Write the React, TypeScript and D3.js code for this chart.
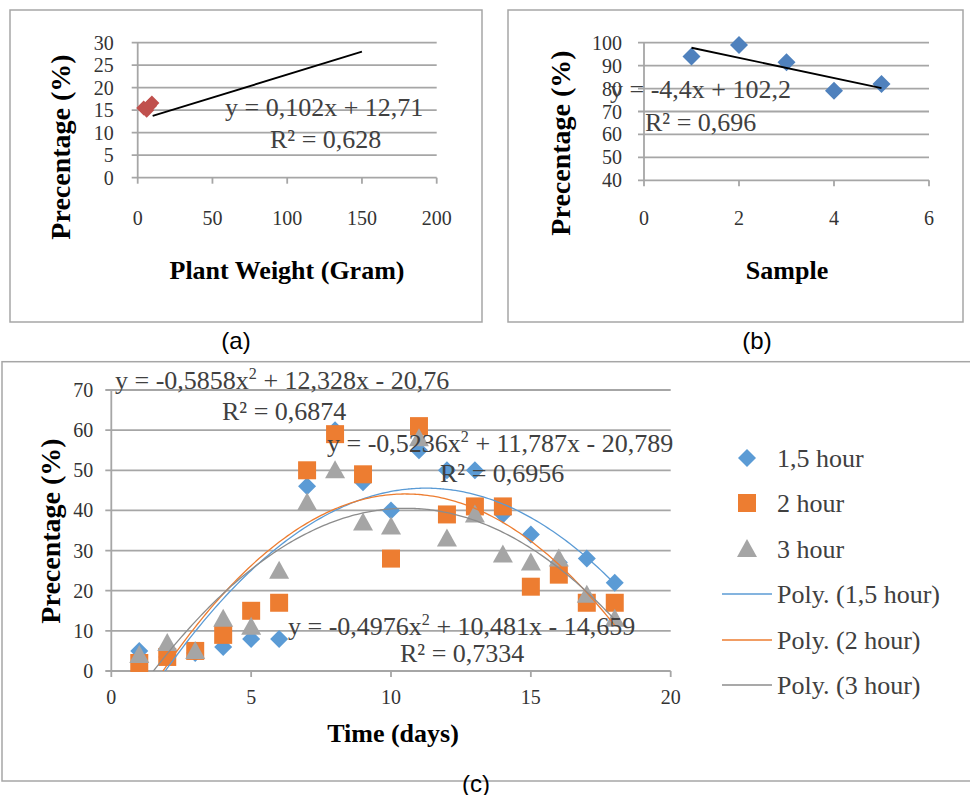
import React from "react";
import * as d3 from "d3";

// ---- data ----
// (a) plant weight vs percentage
const weightX = [4, 6, 8, 9.5];
const weightY = [15.5, 15.0, 16.0, 16.6];
const weightTrendX = [10, 150];
const weightCoef = [12.71, 0.102];
const weightTicksX = [0, 50, 100, 150, 200];
const weightTicksY = [0, 5, 10, 15, 20, 25, 30];

// (b) sample vs percentage
const sampleX = [1, 2, 3, 4, 5];
const sampleY = [94, 99, 91.5, 79, 82];
const sampleTrendX = [1, 5];
const sampleCoef = [102.2, -4.4];
const sampleTicksX = [0, 2, 4, 6];
const sampleTicksY = [40, 50, 60, 70, 80, 90, 100];

// (c) time vs percentage
const days = [1, 2, 3, 4, 5, 6, 7, 8, 9, 10, 11, 12, 13, 14, 15, 16, 17, 18];
const hour15 = [5, 3.5, 4.5, 6, 8, 8, 46, 60, 47, 40, 55, 50, 50, 39, 34, 27, 28, 22];
const hour2 = [2, 3.5, 5, 9, 15, 17, 50, 59, 49, 28, 61, 39, 41, 41, 21, 24, 17, 17];
const hour3 = [4, 7, 5, 13, 11, 25, 42, 50, 37, 36, 58, 33, 39, 29, 27, 28, 19, 13];
const poly15 = [-20.789, 11.787, -0.5236];
const poly2 = [-20.76, 12.328, -0.5858];
const poly3 = [-14.659, 10.481, -0.4976];
const timeTicksX = [0, 5, 10, 15, 20];
const timeTicksY = [0, 10, 20, 30, 40, 50, 60, 70];
const seriesNames = ["1,5 hour", "2 hour", "3 hour"];
const trendNames = ["Poly. (1,5 hour)", "Poly. (2 hour)", "Poly. (3 hour)"];

const SERIF = "'Liberation Serif', 'Times New Roman', serif";
const SANS = "'Liberation Sans', Arial, sans-serif";
const GRID = "#a6a6a6";
const BLUE = "#5b9bd5";
const ORANGE = "#ed7d31";
const GRAY = "#a5a5a5";
const BLUE_B = "#4f81bd";
const RED = "#c0504d";

// marker shapes, size = width in px
const diamond = {
  draw(ctx: any, s: number) {
    const h = s / 2;
    ctx.moveTo(0, -h);
    ctx.lineTo(h, 0);
    ctx.lineTo(0, h);
    ctx.lineTo(-h, 0);
    ctx.closePath();
  },
};
const square = {
  draw(ctx: any, s: number) {
    const h = s / 2;
    ctx.rect(-h, -h, s, s);
  },
};
const triangle = {
  draw(ctx: any, s: number) {
    const h = s / 2;
    ctx.moveTo(0, -h);
    ctx.lineTo(h, h * 0.8);
    ctx.lineTo(-h, h * 0.8);
    ctx.closePath();
  },
};

function Axes({ x, y, xTicks, yTicks, xLabelDy, yLabelDx }: any) {
  const [x0, x1] = x.range();
  const [y0, y1] = y.range();
  return (
    <g>
      {yTicks.map((t: number) => (
        <line key={"g" + t} x1={x0 - 6} x2={x1} y1={y(t)} y2={y(t)} stroke={GRID} strokeWidth={1.8} />
      ))}
      <line x1={x0} x2={x0} y1={y0} y2={y1} stroke={GRID} strokeWidth={1.8} />
      {xTicks.map((t: number) => (
        <line key={"t" + t} x1={x(t)} x2={x(t)} y1={y0} y2={y0 + 6} stroke={GRID} strokeWidth={1.8} />
      ))}
      {xTicks.map((t: number) => (
        <text key={"xl" + t} x={x(t)} y={y0 + xLabelDy} textAnchor="middle" dominantBaseline="central"
          fontFamily={SERIF} fontSize={20} fill="#333">{t}</text>
      ))}
      {yTicks.map((t: number) => (
        <text key={"yl" + t} x={x0 - yLabelDx} y={y(t)} textAnchor="end" dominantBaseline="central"
          fontFamily={SERIF} fontSize={20} fill="#333">{t}</text>
      ))}
    </g>
  );
}

function Eq({ x, y, parts, size = 26 }: any) {
  // parts: array of strings; "^2" means superscript 2
  return (
    <text x={x} y={y} fontFamily={SERIF} fontSize={size} fill="#404040">
      {parts.map((p: string, i: number) =>
        p === "^2" ? (
          <tspan key={i} fontSize={size * 0.62} dy={-size * 0.38}>2</tspan>
        ) : (
          <tspan key={i} dy={i > 0 && parts[i - 1] === "^2" ? size * 0.38 : 0}>{p}</tspan>
        )
      )}
    </text>
  );
}

function YTitle({ cx, cy, text }: any) {
  return (
    <text transform={`translate(${cx},${cy}) rotate(-90)`} textAnchor="middle" dominantBaseline="central"
      fontFamily={SERIF} fontWeight="bold" fontSize={28} fill="#000">{text}</text>
  );
}

function XTitle({ cx, cy, text }: any) {
  return (
    <text x={cx} y={cy} textAnchor="middle" dominantBaseline="central"
      fontFamily={SERIF} fontWeight="bold" fontSize={26} fill="#000">{text}</text>
  );
}

export default function App() {
  // panel a
  const xa = d3.scaleLinear().domain([0, 200]).range([137.7, 436.7]);
  const ya = d3.scaleLinear().domain([0, 30]).range([177.7, 42.7]);
  const lineA = d3.line<number>().x((d) => xa(d)).y((d) => ya(weightCoef[0] + weightCoef[1] * d));

  // panel b
  const xb = d3.scaleLinear().domain([0, 6]).range([644, 929]);
  const yb = d3.scaleLinear().domain([40, 100]).range([180.3, 42.7]);
  const lineB = d3.line<number>().x((d) => xb(d)).y((d) => yb(sampleCoef[0] + sampleCoef[1] * d));

  // panel c
  const xc = d3.scaleLinear().domain([0, 20]).range([111.3, 670.7]);
  const yc = d3.scaleLinear().domain([0, 70]).range([671, 390]);
  const curveX = d3.range(days[0], days[days.length - 1] + 0.001, 0.1);
  const polyLine = (c: number[]) =>
    d3.line<number>().x((d) => xc(d)).y((d) => yc(c[0] + c[1] * d + c[2] * d * d)).curve(d3.curveMonotoneX)(curveX) ?? "";

  const sym = (type: any, s: number) => d3.symbol().type(type).size(s)() ?? "";

  const series = [
    { vals: hour15, color: BLUE, shape: diamond, size: 18, poly: poly15, line: BLUE },
    { vals: hour2, color: ORANGE, shape: square, size: 18, poly: poly2, line: ORANGE },
    { vals: hour3, color: GRAY, shape: triangle, size: 20, poly: poly3, line: "#8c8c8c" },
  ];

  const legendY = [458, 503, 549, 594, 640, 685];

  return (
    <svg width={970} height={795} viewBox="0 0 970 795"
      style={{ position: "absolute", left: 0, top: 0, background: "#fff" }}>
      <defs>
        <clipPath id="clipC">
          <rect x={xc.range()[0]} y={yc.range()[1]} width={xc.range()[1] - xc.range()[0]} height={yc.range()[0] - yc.range()[1]} />
        </clipPath>
      </defs>

      {/* ---------- (a) ---------- */}
      <rect x={10} y={10} width={472} height={312} fill="none" stroke={GRID} strokeWidth={1.5} />
      <Axes x={xa} y={ya} xTicks={weightTicksX} yTicks={weightTicksY} xLabelDy={40} yLabelDx={24} />
      {weightX.map((d, i) => (
        <path key={i} d={sym(diamond, 15)} transform={`translate(${xa(d)},${ya(weightY[i])})`} fill={RED} />
      ))}
      <path d={lineA(weightTrendX) ?? ""} fill="none" stroke="#000" strokeWidth={1.8} />
      <Eq x={225} y={116} parts={["y = 0,102x + 12,71"]} />
      <Eq x={270} y={148} parts={["R² = 0,628"]} />
      <YTitle cx={60} cy={147} text="Precentage (%)" />
      <XTitle cx={287} cy={270} text="Plant Weight (Gram)" />
      <text x={236} y={340} textAnchor="middle" dominantBaseline="central" fontFamily={SANS} fontSize={24} fill="#000">(a)</text>

      {/* ---------- (b) ---------- */}
      <rect x={508} y={10} width={455} height={312} fill="none" stroke={GRID} strokeWidth={1.5} />
      <Axes x={xb} y={yb} xTicks={sampleTicksX} yTicks={sampleTicksY} xLabelDy={38} yLabelDx={22} />
      {sampleX.map((d, i) => (
        <path key={i} d={sym(diamond, 18)} transform={`translate(${xb(d)},${yb(sampleY[i])})`} fill={BLUE_B} />
      ))}
      <path d={lineB(sampleTrendX) ?? ""} fill="none" stroke="#000" strokeWidth={1.8} />
      <Eq x={610} y={98} parts={["y = -4,4x + 102,2"]} />
      <Eq x={645} y={131} parts={["R² = 0,696"]} />
      <YTitle cx={560} cy={143} text="Precentage (%)" />
      <XTitle cx={787} cy={270} text="Sample" />
      <text x={757} y={340} textAnchor="middle" dominantBaseline="central" fontFamily={SANS} fontSize={24} fill="#000">(b)</text>

      {/* ---------- (c) ---------- */}
      <rect x={2} y={361.7} width={1000} height={419.3} fill="none" stroke={GRID} strokeWidth={1.5} />
      <Axes x={xc} y={yc} xTicks={timeTicksX} yTicks={timeTicksY} xLabelDy={26} yLabelDx={18} />
      {series.map((s, si) =>
        days.map((d, i) => (
          <path key={si + "-" + i} d={sym(s.shape, s.size)} transform={`translate(${xc(d)},${yc(s.vals[i])})`} fill={s.color} />
        ))
      )}
      <g clipPath="url(#clipC)">
        {series.map((s, si) => (
          <path key={"p" + si} d={polyLine(s.poly)} fill="none" stroke={s.line} strokeWidth={1.3} />
        ))}
      </g>
      <Eq x={115} y={389} parts={["y = -0,5858x", "^2", " + 12,328x - 20,76"]} />
      <Eq x={222} y={420} parts={["R² = 0,6874"]} />
      <Eq x={327} y={452} parts={["y = -0,5236x", "^2", " + 11,787x - 20,789"]} />
      <Eq x={440} y={482} parts={["R² = 0,6956"]} />
      <Eq x={288} y={635} parts={["y = -0,4976x", "^2", " + 10,481x - 14,659"]} />
      <Eq x={400} y={662} parts={["R² = 0,7334"]} />
      <YTitle cx={50} cy={531} text="Precentage (%)" />
      <XTitle cx={393} cy={733} text="Time (days)" />
      <text x={476} y={783} textAnchor="middle" dominantBaseline="central" fontFamily={SANS} fontSize={24} fill="#000">(c)</text>

      {/* legend */}
      {series.map((s, i) => (
        <g key={"lg" + i}>
          <path d={sym(s.shape, s.size)} transform={`translate(747,${legendY[i]})`} fill={s.color} />
          <text x={777} y={legendY[i]} dominantBaseline="central" fontFamily={SERIF} fontSize={26} fill="#404040">{seriesNames[i]}</text>
        </g>
      ))}
      {series.map((s, i) => (
        <g key={"lt" + i}>
          <line x1={722} x2={772} y1={legendY[i + 3]} y2={legendY[i + 3]} stroke={s.line} strokeWidth={1.3} />
          <text x={777} y={legendY[i + 3]} dominantBaseline="central" fontFamily={SERIF} fontSize={26} fill="#404040">{trendNames[i]}</text>
        </g>
      ))}
    </svg>
  );
}
